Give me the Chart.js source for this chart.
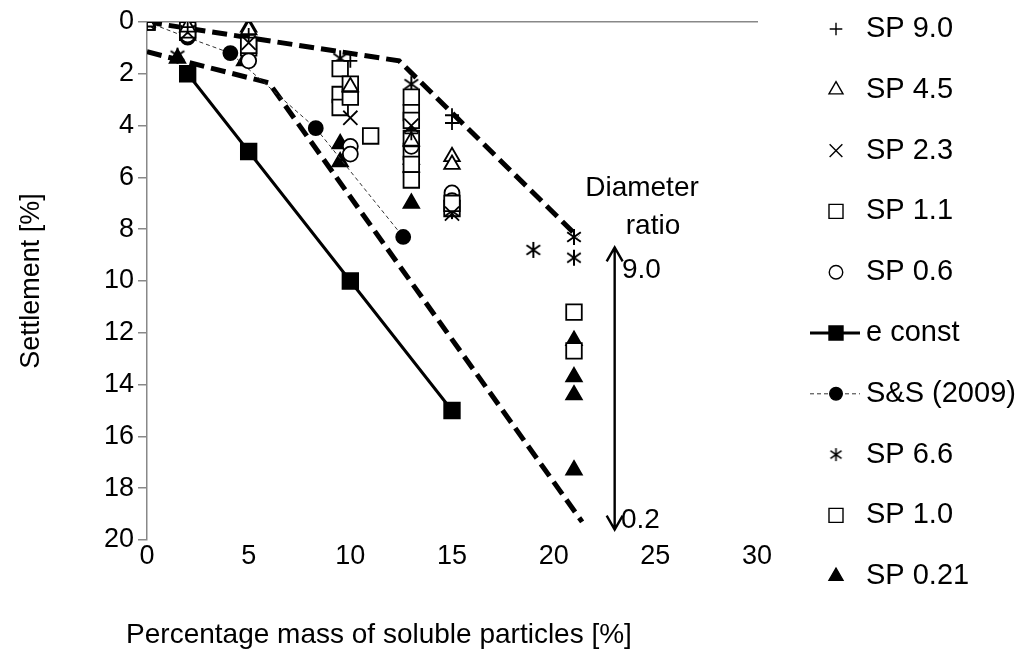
<!DOCTYPE html>
<html>
<head>
<meta charset="utf-8">
<script src="https://cdn.jsdelivr.net/npm/chart.js@4.4.1/dist/chart.umd.min.js"></script>
<style>
  html, body { margin: 0; padding: 0; background: #fff; }
  #wrap { width: 1026px; height: 651px; position: relative; }
</style>
</head>
<body>
<div id="wrap"><canvas id="c"></canvas></div>
<script>
// x = percentage mass of soluble particles [%], y = settlement [%]
const sp90  = [[0,0],[2,0.2],[5,0.5],[10,1.5],[13,4.3],[15,3.6],[15,3.9]];
const sp45  = [[0,0],[2,0.2],[5,0.3],[10,2.5],[13,4.6],[15,5.2],[15,5.5]];
const sp23  = [[0,0],[2,0.4],[5,0.8],[10,3.7],[13,4.0],[15,7.4]];
const sp11  = [[0,0],[2,0.3],[5,0.9],[9.5,1.8],[10,2.4],[13,2.9],[13,3.5],[13,3.8],[13,4.5],[15,7.0],[21,11.2]];
const sp06  = [[0,0],[2,0.5],[5,1.5],[10,4.8],[10,5.1],[13,4.8],[15,6.6],[15,6.9]];
const eConst = [[2,2],[5,5],[10,10],[15,15]];
const ss2009 = [[0,0],[2,0.6],[4.1,1.2],[8.3,4.1],[12.6,8.3]];
const sp66  = [[0,0],[1.5,1.3],[5,0.8],[9.5,1.4],[13,2.4],[13,4.2],[15,7.3],[19,8.8],[21,8.3],[21,9.1]];
const sp10  = [[0,0],[2,0.4],[5,1.0],[9.5,2.8],[9.5,3.3],[10,2.9],[11,4.4],[13,5.0],[13,5.5],[13,6.1],[15,7.2],[21,12.7]];
const sp021 = [[0,0],[1.5,1.4],[4.8,1.5],[5,0.2],[9.5,4.7],[9.5,5.4],[13,5.3],[13,5.6],[13,7.0],[21,12.3],[21,13.7],[21,14.4],[21,17.3]];
// envelope lines (thick dashed)
const upperBound = [[0,0],[12.4,1.5],[21.2,8.3]];
const lowerBound = [[0,1.15],[6,2.35],[21.4,19.3]];
// diameter ratio arrow
const arrowX = 23, arrowTop = 8.7, arrowBottom = 19.6;

const FONT = '"Liberation Sans", Arial, sans-serif';
Chart.defaults.font.family = FONT;
Chart.defaults.color = '#000';

const pts = arr => arr.map(p => ({ x: p[0], y: p[1] }));

// excel style asterisk marker
function makeStar(size, lw) {
  const c = document.createElement('canvas');
  c.width = c.height = size;
  const g = c.getContext('2d');
  g.strokeStyle = '#000';
  g.lineWidth = lw;
  const m = size / 2, r = size / 2 - 1;
  g.beginPath();
  g.moveTo(m, m - r); g.lineTo(m, m + r);
  g.moveTo(m - r * 0.85, m - r * 0.6); g.lineTo(m + r * 0.85, m + r * 0.6);
  g.moveTo(m - r * 0.85, m + r * 0.6); g.lineTo(m + r * 0.85, m - r * 0.6);
  g.stroke();
  return c;
}
const starBig = makeStar(18, 2);
const starSmall = makeStar(15, 1.6);

function marker(label, data, style, radius, fill, extra) {
  return Object.assign({
    label: label,
    data: pts(data),
    pointStyle: style,
    pointRadius: radius,
    pointHoverRadius: radius,
    pointBackgroundColor: fill,
    pointBorderColor: '#000',
    pointBorderWidth: 1.8,
    showLine: false
  }, extra || {});
}

const datasets = [
  marker('SP 9.0', sp90, 'cross', 7, '#fff'),
  marker('SP 4.5', sp45, 'triangle', 9, '#fff'),
  marker('SP 2.3', sp23, 'crossRot', 10, '#fff'),
  marker('SP 1.1', sp11, 'rect', 11, '#fff'),
  marker('SP 0.6', sp06, 'circle', 7.5, '#fff'),
  marker('e const', eConst, 'rect', 11, '#000', { showLine: true, borderColor: '#000', borderWidth: 3 }),
  marker('S&S (2009)', ss2009, 'circle', 7, '#000', { showLine: true, borderColor: '#333', borderWidth: 1, borderDash: [4, 3] }),
  marker('SP 6.6', sp66, starBig, 9, '#fff'),
  marker('SP 1.0', sp10, 'rect', 11, '#fff'),
  marker('SP 0.21', sp021, 'triangle', 9, '#000'),
  { label: 'upper', data: pts(upperBound), showLine: true, pointRadius: 0, borderColor: '#000', borderWidth: 5, borderDash: [15, 7], noLegend: true },
  { label: 'lower', data: pts(lowerBound), showLine: true, pointRadius: 0, borderColor: '#000', borderWidth: 5, borderDash: [15, 7], noLegend: true }
];

const extras = {
  id: 'extras',
  afterDraw(chart) {
    const ctx = chart.ctx;
    const xs = chart.scales.x, ys = chart.scales.y;
    ctx.save();
    ctx.fillStyle = '#000';
    ctx.strokeStyle = '#000';
    ctx.textBaseline = 'middle';

    // x axis title
    ctx.font = '28px ' + FONT;
    ctx.textAlign = 'center';
    ctx.fillText('Percentage mass of soluble particles [%]', 379, 635);

    // arrow
    const ax = xs.getPixelForValue(arrowX);
    const at = ys.getPixelForValue(arrowTop), ab = ys.getPixelForValue(arrowBottom);
    ctx.lineWidth = 2.4;
    ctx.beginPath();
    ctx.moveTo(ax, at); ctx.lineTo(ax, ab);
    ctx.moveTo(ax - 8, at + 14); ctx.lineTo(ax, at); ctx.lineTo(ax + 8, at + 14);
    ctx.moveTo(ax - 8, ab - 14); ctx.lineTo(ax, ab); ctx.lineTo(ax + 8, ab - 14);
    ctx.stroke();

    ctx.fillText('Diameter', 642, 188);
    ctx.fillText('ratio', 653, 226);
    ctx.textAlign = 'left';
    ctx.fillText('9.0', 622, 270);
    ctx.fillText('0.2', 621, 520);

    // legend
    let row = 0;
    chart.data.datasets.forEach(ds => {
      if (ds.noLegend) return;
      const y = 29 + 60.8 * row;
      const mx = 836;
      if (ds.showLine) {
        ctx.save();
        ctx.lineWidth = ds.borderWidth;
        ctx.strokeStyle = ds.borderColor;
        ctx.setLineDash(ds.borderDash || []);
        ctx.beginPath();
        ctx.moveTo(810, y); ctx.lineTo(860, y);
        ctx.stroke();
        ctx.restore();
      }
      const style = ds.pointStyle === starBig ? starSmall : ds.pointStyle;
      ctx.save();
      ctx.fillStyle = ds.pointBackgroundColor;
      ctx.strokeStyle = '#000';
      ctx.lineWidth = 1.4;
      Chart.helpers.drawPoint(ctx, { pointStyle: style, radius: ds.pointRadius * 0.9, borderWidth: 1.4, rotation: 0 }, mx, y);
      ctx.restore();
      ctx.fillStyle = '#000';
      ctx.font = '29px ' + FONT;
      ctx.textAlign = 'left';
      ctx.fillText(ds.label, 866, y);
      row++;
    });
    ctx.restore();
  }
};

new Chart(document.getElementById('c'), {
  type: 'scatter',
  data: { datasets: datasets },
  options: {
    responsive: true,
    maintainAspectRatio: false,
    animation: false,
    layout: { padding: { left: 0, right: 269, top: 22, bottom: 0 } },
    plugins: { legend: { display: false }, tooltip: { enabled: false } },
    scales: {
      x: {
        type: 'linear', position: 'bottom', min: 0, max: 30,
        ticks: { stepSize: 5, font: { size: 27 }, color: '#000', padding: 0 },
        grid: { display: false, drawTicks: false },
        border: { display: false },
        afterFit(s) { s.height = 111; }
      },
      x2: {
        type: 'linear', position: 'top', min: 0, max: 30, display: true,
        ticks: { display: false },
        grid: { display: false, drawTicks: false },
        border: { display: true, color: '#888', width: 1.5 },
        afterFit(s) { s.height = 0; }
      },
      y: {
        min: 0, max: 20, reverse: true,
        ticks: { stepSize: 2, font: { size: 27 }, color: '#000', padding: 4 },
        grid: { drawOnChartArea: false, tickLength: 9, color: '#888', lineWidth: 1.5 },
        border: { color: '#888', width: 1.5 },
        title: { display: true, text: 'Settlement [%]', font: { size: 27 }, color: '#000', padding: { top: 15, bottom: 0 } },
        afterFit(s) { s.width = 147; }
      }
    }
  },
  plugins: [extras]
});
</script>
</body>
</html>
